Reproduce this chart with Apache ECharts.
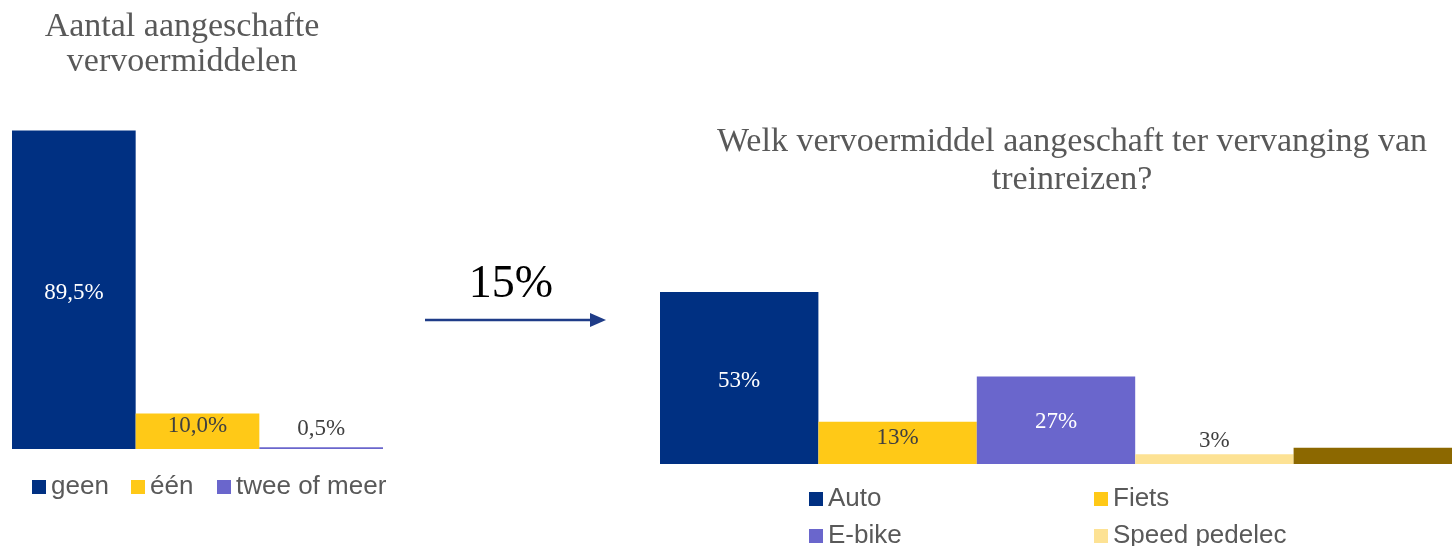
<!DOCTYPE html>
<html>
<head>
<meta charset="utf-8">
<script src="https://cdn.jsdelivr.net/npm/echarts@6/dist/echarts.min.js"></script>
<style>
html,body{margin:0;padding:0;background:#fff;}
#chart{width:1452px;height:546px;}
</style>
</head>
<body>
<div id="chart"></div>
<script>
// ---- data ----
const leftTitle = 'Aantal aangeschafte\nvervoermiddelen';
const rightTitle = 'Welk vervoermiddel aangeschaft ter vervanging van\ntreinreizen?';
const arrowText = '15%';
const leftNames = ['geen', 'één', 'twee of meer'];
const leftValues = [89.5, 10.0, 0.5];
const rightNames = ['Auto', 'Fiets', 'E-bike', 'Speed pedelec', 'Anders'];
const rightValues = [53, 13, 27, 3, 5];

const leftColors = ['#003082', '#FFC917', '#6A66CC'];
const rightColors = ['#003082', '#FFC917', '#6A66CC', '#FDE294', '#8C6800'];
const leftLabelPos = [
  {position: 'inside', color: '#ffffff', distance: 5, offset: [0, 3]},
  {position: 'insideTop', color: '#404040', distance: 0, offset: [0, 1]},
  {position: 'top', color: '#404040', distance: 6, offset: [0, -1]}
];
const rightLabelPos = [
  {position: 'inside', color: '#ffffff', distance: 5, offset: [0, 3]},
  {position: 'insideTop', color: '#404040', distance: 3, offset: [0, 2]},
  {position: 'inside', color: '#ffffff', distance: 5, offset: [0, 2]},
  {position: 'top', color: '#404040', distance: 4, offset: [0, 2]},
  null
];
// legend item placement (left px, top px)
const leftLegendPos = [[32, 474], [131, 474], [217, 474]];
const rightLegendPos = [[809, 486], [1094, 486], [809, 523], [1094, 523], [809, 560]];

const serif = '"Liberation Serif", "Times New Roman", serif';
const sans = '"Liberation Sans", Arial, sans-serif';

const chart = echarts.init(document.getElementById('chart'), null, {renderer: 'canvas'});

const series = [];
leftNames.forEach((n, i) => {
  const lp = leftLabelPos[i];
  series.push({
    name: n, type: 'bar', xAxisIndex: 0, yAxisIndex: 0,
    data: [leftValues[i]],
    barGap: '0%', barCategoryGap: '0%',
    itemStyle: {color: leftColors[i]},
    label: {
      show: true, position: lp.position, distance: lp.distance, offset: lp.offset,
      color: lp.color, fontFamily: serif, fontSize: 23,
      formatter: p => p.value.toFixed(1).replace('.', ',') + '%'
    },
    silent: true, animation: false
  });
});
rightNames.forEach((n, i) => {
  const lp = rightLabelPos[i];
  series.push({
    name: n, type: 'bar', xAxisIndex: 1, yAxisIndex: 1,
    data: [rightValues[i]],
    barGap: '0%', barCategoryGap: '0%',
    itemStyle: {color: rightColors[i]},
    label: lp ? {
      show: true, position: lp.position, distance: lp.distance, offset: lp.offset,
      color: lp.color, fontFamily: serif, fontSize: 23,
      formatter: p => p.value + '%'
    } : {show: false},
    silent: true, animation: false
  });
});

const legendText = {color: '#595959', fontFamily: sans, fontSize: 26};
const legends = [];
leftNames.forEach((n, i) => {
  legends.push({
    data: [n], left: leftLegendPos[i][0], top: leftLegendPos[i][1], padding: 0,
    icon: 'rect', itemWidth: 14, itemHeight: 14,
    textStyle: legendText, selectedMode: false
  });
});
rightNames.forEach((n, i) => {
  legends.push({
    data: [n], left: rightLegendPos[i][0], top: rightLegendPos[i][1], padding: 0,
    icon: 'rect', itemWidth: 14, itemHeight: 14,
    textStyle: legendText, selectedMode: false
  });
});

const option = {
  animation: false,
  backgroundColor: '#ffffff',
  grid: [
    {left: 12, width: 371, top: 449 - 356, height: 356},
    {left: 660, width: 797, top: 464 - 324.5, height: 324.5}
  ],
  xAxis: [
    {type: 'category', gridIndex: 0, data: [''], show: false},
    {type: 'category', gridIndex: 1, data: [''], show: false}
  ],
  yAxis: [
    {type: 'value', gridIndex: 0, min: 0, max: 100, show: false},
    {type: 'value', gridIndex: 1, min: 0, max: 100, show: false}
  ],
  legend: legends,
  graphic: [
    {
      type: 'text', x: 182, y: 45,
      style: {text: leftTitle, x: 0, y: 0, textAlign: 'center', textVerticalAlign: 'middle',
        font: '34px ' + serif, fill: '#595959', lineHeight: 35}
    },
    {
      type: 'text', x: 1072, y: 161,
      style: {text: rightTitle, x: 0, y: 0, textAlign: 'center', textVerticalAlign: 'middle',
        font: '34px ' + serif, fill: '#595959', lineHeight: 38}
    },
    {
      type: 'text', x: 511, y: 285,
      style: {text: arrowText, x: 0, y: 0, textAlign: 'center', textVerticalAlign: 'middle',
        font: '46px ' + serif, fill: '#000000'}
    },
    {
      type: 'line', shape: {x1: 425, y1: 320, x2: 594, y2: 320},
      style: {stroke: '#1F3C88', lineWidth: 2.5}
    },
    {
      type: 'polygon', shape: {points: [[590, 313], [606, 320], [590, 327]]},
      style: {fill: '#1F3C88'}
    }
  ],
  series: series
};
chart.setOption(option);
</script>
</body>
</html>
